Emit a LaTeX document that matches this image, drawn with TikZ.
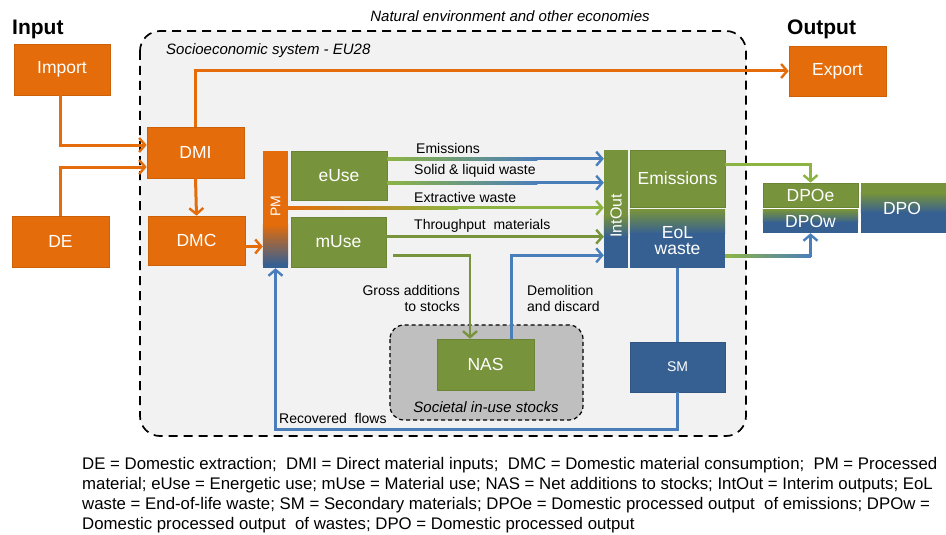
\documentclass[tikz,border=0pt]{standalone}
\usepackage{fontspec}
\setmainfont{Liberation Sans}
\usetikzlibrary{arrows.meta,calc,positioning}
\definecolor{ora}{HTML}{E46C0A}
\definecolor{grn}{HTML}{77933C}
\definecolor{lgrn}{HTML}{8DB443}
\definecolor{dblu}{HTML}{376092}
\definecolor{ablu}{HTML}{4A7EBB}
\definecolor{bgg}{HTML}{F2F2F2}
\definecolor{stk}{HTML}{BFBFBF}
\tikzset{
  box/.style={inner sep=0pt,text=white,font=\fontsize{17.5}{19}\selectfont,align=center},
  obox/.style={box,fill=ora,draw=ora!90!black,line width=0.6pt},
  gbox/.style={box,fill=grn,draw=grn!90!black,line width=0.6pt},
  bbox/.style={box,fill=dblu,draw=dblu!90!black,line width=0.6pt},
  tip/.style={-{Straight Barb[length=6pt,width=14pt,line width=2.4pt]}},
  oarr/.style={draw=ora,line width=3pt,tip},
  garr/.style={draw=grn,line width=2.7pt,tip},
  barr/.style={draw=ablu,line width=2.7pt,tip},
  bline/.style={draw=ablu,line width=2.7pt},
  flab/.style={font=\fontsize{14}{16}\selectfont,inner sep=0pt},
  ttl/.style={font=\bfseries\fontsize{21}{23}\selectfont,inner sep=0pt},
  itl/.style={font=\itshape\fontsize{15}{17}\selectfont,inner sep=0pt},
  leg/.style={font=\fontsize{16.8}{19}\selectfont,inner sep=0pt,anchor=west},
}
\begin{document}
\begin{tikzpicture}[x=1pt,y=-1pt]
\useasboundingbox[fill=white] (0,0) rectangle (946,535);
% regions
\draw[fill=bgg,line width=1.7pt,dash pattern=on 9pt off 6pt,rounded corners=20pt] (140,31) rectangle (746,436);
\draw[fill=stk,line width=1.2pt,dash pattern=on 4pt off 3pt,rounded corners=14pt] (390,325) rectangle (583,420);
\node[itl] (natl) at (510,16) {Natural environment and other economies};
\node[itl,anchor=west] (soc) at (166,51) {Socioeconomic system - EU28};
\node[itl] (stocks) at (486,407) {Societal in-use stocks};
\node[ttl,anchor=west] (inp) at (12,29) {Input};
\node[ttl,anchor=west] (outp) at (787,29) {Output};
% boxes
\node[obox,minimum width=96pt,minimum height=51pt] (import) at (62,69.5) {Import};
\node[obox,minimum width=97pt,minimum height=51pt] (de) at (60.5,241.5) {DE};
\node[obox,minimum width=97pt,minimum height=51pt] (dmi) at (195.5,152.5) {DMI};
\node[obox,minimum width=97pt,minimum height=49pt] (dmc) at (196.5,240.5) {DMC};
\node[obox,minimum width=97pt,minimum height=50pt] (export) at (837.5,71) {Export};
% PM bar
\node[inner sep=0pt,minimum width=25pt,minimum height=117pt] (pm) at (275.5,209.5) {};
\fill[ora] (pm.north west) rectangle ($(pm.east)+(0,15)$);
\shade[top color=ora,bottom color=dblu] ($(pm.west)+(0,15)$) rectangle ($(pm.south east)+(0,-4)$);
\fill[dblu] ($(pm.south west)+(0,-4.5)$) rectangle (pm.south east);
\node[rotate=90,text=white,font=\fontsize{14}{16}\selectfont,inner sep=0pt] (pmlab) at (275.5,206) {PM};
\node[gbox,minimum width=96pt,minimum height=49pt] (euse) at (339,175.5) {eUse};
\node[gbox,minimum width=95pt,minimum height=50pt] (muse) at (338.5,242) {mUse};
% IntOut bar
\node[inner sep=0pt,minimum width=24pt,minimum height=118pt] (intout) at (616,209) {};
\fill[grn] (intout.north west) rectangle ($(intout.east)+(0,6)$);
\shade[top color=grn,bottom color=dblu] ($(intout.west)+(0,6)$) rectangle ($(intout.east)+(0,28)$);
\fill[dblu] ($(intout.west)+(0,27.5)$) rectangle (intout.south east);
\node[rotate=90,text=white,font=\fontsize{16}{18}\selectfont,inner sep=0pt] (iolab) at (616,216) {IntOut};
\node[gbox,minimum width=95pt,minimum height=57pt] (emis) at (677.5,178.5) {Emissions};
\node[inner sep=0pt,minimum width=95pt,minimum height=58pt] (eol) at (677.5,239) {};
\shade[top color=grn,bottom color=dblu] (eol.north west) rectangle ($(eol.north east)+(0,24)$);
\fill[dblu] ($(eol.north west)+(0,23.5)$) rectangle (eol.south east);
\node[box,text=white] (eollab) at (677.5,241) {EoL\\[-3pt]waste};
% DPO
\node[gbox,minimum width=95pt,minimum height=24pt] (dpoe) at (810.5,195) {DPOe};
\node[inner sep=0pt,minimum width=95pt,minimum height=23pt] (dpow) at (810.5,221.5) {};
\shade[top color=grn,bottom color=dblu] (dpow.north west) rectangle ($(dpow.north east)+(0,13)$);
\fill[dblu] ($(dpow.north west)+(0,12.5)$) rectangle (dpow.south east);
\node[box] (dpowlab) at (810.5,221) {DPOw};
\node[inner sep=0pt,minimum width=90pt,minimum height=50pt] (dpo) at (906,208) {};
\fill[grn] (dpo.north west) rectangle ($(dpo.north east)+(0,10)$);
\shade[top color=grn,bottom color=dblu] ($(dpo.north west)+(0,10)$) rectangle ($(dpo.north east)+(0,30)$);
\fill[dblu] ($(dpo.north west)+(0,29.5)$) rectangle (dpo.south east);
\node[box] (dpolab) at (902,208) {DPO};
% NAS, SM
\node[gbox,minimum width=97pt,minimum height=51pt] (nas) at (485.5,364.5) {NAS};
\node[bbox,minimum width=95pt,minimum height=50pt,font=\fontsize{14}{16}\selectfont] (sm) at (677.5,367) {SM};
% orange connectors
\draw[oarr] ([xshift=-2pt]import.south) |- ([yshift=7.5pt]dmi.west);
\draw[oarr] (de.north) |- ([yshift=-14.5pt]dmi.west);
\draw[oarr] (dmi.south) -- (dmc.north);
\draw[oarr] (dmi.north) |- (export.west);
\coordinate (d1) at ($(dmc.east)+(0,6)$);
\draw[oarr] (d1) -- (pm.west |- d1);
% flows to IntOut
\coordinate (e1) at ($(euse.north east)+(0,8)$);
\coordinate (e2) at ($(euse.north east)+(0,32)$);
\coordinate (e3) at ($(pm.north east)+(0,57)$);
\coordinate (e4) at ($(muse.north east)+(0,20)$);
\draw[barr] (e1) -- (intout.west |- e1);
\shade[left color=lgrn,right color=ablu] ($(e1)+(0,-1.35)$) rectangle ($(e1)+(150,1.35)$);
\draw[barr] (e2) -- (intout.west |- e2);
\shade[left color=lgrn,right color=ablu] ($(e2)+(0,-1.35)$) rectangle ($(e2)+(150,1.35)$);
\draw[garr,draw=lgrn] (e3) -- (intout.west |- e3);
\shade[left color=ora,right color=lgrn] ($(e3)+(0,-1.35)$) rectangle ($(e3)+(170,1.35)$);
\draw[garr] (e4) -- (intout.west |- e4);
\node[flab,anchor=west] (l1) at (416,148) {Emissions};
\node[flab,anchor=west] (l2) at (414,171) {Solid \& liquid waste};
\node[flab,anchor=west] (l3) at (414,197) {Extractive waste};
\node[flab,anchor=west] (l4) at (414,226) {Throughput\ \ materials};
% stocks
\coordinate (g0) at ($(muse.south east)+(7,-12)$);
\draw[garr] (g0) -| ([xshift=-15.5pt]nas.north);
\draw[barr] ([xshift=26pt]nas.north) |- (intout.west |- g0);
\node[flab,align=right,anchor=east] (l5) at (460,298) {Gross additions\\to stocks};
\node[flab,align=left,anchor=west] (l6) at (527,298) {Demolition\\and discard};
% outputs
\draw[draw=lgrn,line width=2.7pt,tip] ($(emis.north east)+(0,15)$) -| (dpoe.north);
\draw[barr] ($(eol.north east)+(0,46)$) -| (dpow.south);
\shade[left color=lgrn,right color=ablu] ($(eol.north east)+(0,44.65)$) rectangle ($(eol.north east)+(86,47.35)$);
% recovered flows
\draw[bline] (eol.south) -- (sm.north);
\draw[barr] (sm.south) -- ++(0,37) coordinate (rc) -| (pm.south);
\node[flab,anchor=west] (l7) at (279,418) {Recovered\ \ flows};
% legend
\node[leg] (lg1) at (82,465) {DE = Domestic extraction;\ \ DMI = Direct material inputs;\ \ DMC = Domestic material consumption;\ \ PM = Processed};
\node[leg] (lg2) at (82,485) {material; eUse = Energetic use; mUse = Material use; NAS = Net additions to stocks; IntOut = Interim outputs; EoL};
\node[leg] (lg3) at (82,505) {waste = End-of-life waste; SM = Secondary materials; DPOe = Domestic processed output\ \ of emissions; DPOw =};
\node[leg] (lg4) at (82,525) {Domestic processed output\ \ of wastes; DPO = Domestic processed output};
\end{tikzpicture}
\end{document}
